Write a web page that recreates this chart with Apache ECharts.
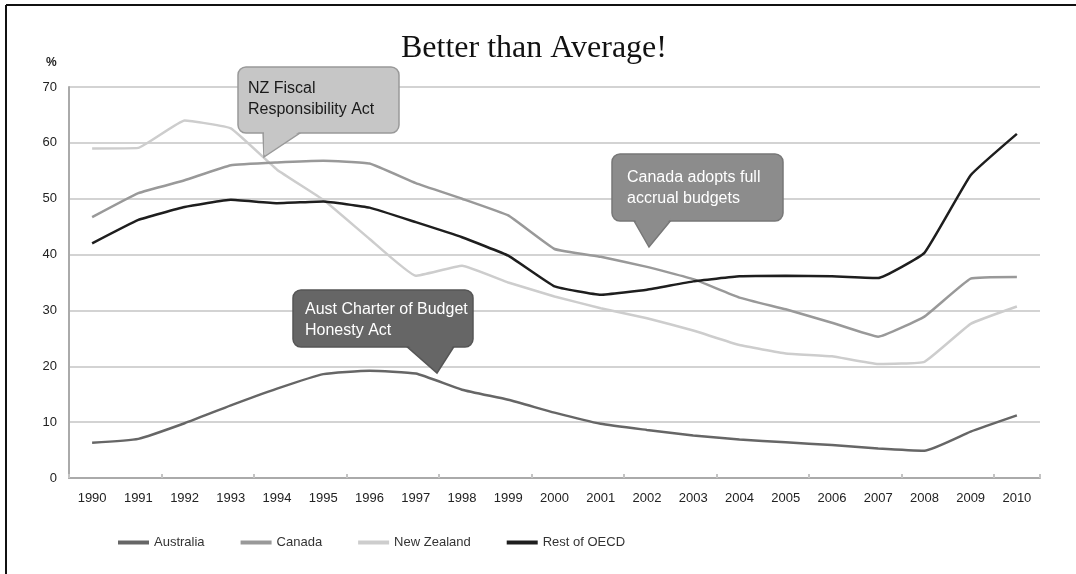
<!DOCTYPE html>
<html>
<head>
<meta charset="utf-8">
<title>Better than Average!</title>
<script src="https://cdn.jsdelivr.net/npm/echarts@6/dist/echarts.min.js"></script>
<style>
html, body { margin: 0; padding: 0; background: #fff; }
#main { width: 1076px; height: 574px; }
</style>
</head>
<body>
<div id="main"></div>
<script>
// 年份
var years = ['1990', '1991', '1992', '1993', '1994', '1995', '1996', '1997', '1998', '1999', '2000',
	'2001', '2002', '2003', '2004', '2005', '2006', '2007', '2008', '2009', '2010'];
// 各国数据 (%)
var australia = [6.3, 7.0, 9.8, 13.0, 16.0, 18.6, 19.2, 18.7, 15.8, 14.0, 11.7, 9.7, 8.6, 7.6, 6.9, 6.4, 5.9, 5.3, 4.9, 8.3, 11.2];
var canada = [46.7, 51.0, 53.3, 56.0, 56.5, 56.8, 56.3, 52.8, 50.0, 47.0, 41.0, 39.6, 37.8, 35.6, 32.3, 30.2, 27.8, 25.3, 28.9, 35.7, 36.0];
var newZealand = [59.0, 59.1, 64.0, 62.6, 55.2, 49.8, 42.8, 36.2, 38.0, 35.0, 32.5, 30.4, 28.6, 26.4, 23.8, 22.3, 21.8, 20.4, 20.8, 27.6, 30.7];
var restOfOecd = [42.0, 46.2, 48.5, 49.8, 49.2, 49.5, 48.4, 45.8, 43.1, 39.8, 34.3, 32.8, 33.7, 35.2, 36.1, 36.2, 36.1, 35.8, 40.3, 54.2, 61.6];
var seriesNames = ['Australia', 'Canada', 'New Zealand', 'Rest of OECD'];
// 注释文字
var noteTexts = ['NZ Fiscal\nResponsibility Act', 'Canada adopts full\naccrual budgets', 'Aust Charter of Budget\nHonesty Act'];

var sansFont = '"Liberation Sans", Arial, sans-serif';

// 气泡框: 圆角矩形 + 三角指针 + 文字 (z 要高于折线)
function bubble(text, box, base, tip, fill, stroke, color, textPos) {
	var bottom = box[1] + box[3];
	return {
		type: 'group',
		z: 100,
		children: [{
			type: 'polygon',
			z: 100,
			shape: { points: [[base[0], bottom - 2], [base[1], bottom - 2], tip] },
			style: { fill: fill, stroke: stroke, lineWidth: 1.5 }
		}, {
			type: 'rect',
			z: 101,
			shape: { x: box[0], y: box[1], width: box[2], height: box[3], r: 8 },
			style: { fill: fill, stroke: stroke, lineWidth: 1.5 }
		}, {
			type: 'polygon',
			z: 102,
			shape: { points: [[base[0] + 1, bottom - 3], [base[1] - 1, bottom - 3], [tip[0], tip[1] - 2]] },
			style: { fill: fill }
		}, {
			type: 'text',
			z: 103,
			x: textPos[0],
			y: textPos[1],
			style: {
				text: text,
				fill: color,
				fontSize: 16,
				fontFamily: sansFont,
				lineHeight: 21,
				verticalAlign: 'top'
			}
		}]
	};
}

var myChart = echarts.init(document.getElementById('main'));

var option = {
	animation: false,
	title: {
		text: 'Better than Average!',
		left: 396,
		top: 28,
		textStyle: {
			fontFamily: '"Liberation Serif", "Times New Roman", serif',
			fontSize: 32,
			fontWeight: 'normal',
			color: '#111'
		}
	},
	legend: {
		data: seriesNames,
		left: 113,
		top: 531,
		icon: 'rect',
		itemWidth: 31,
		itemHeight: 4,
		itemGap: 36,
		textStyle: { fontSize: 13, color: '#333', fontFamily: sansFont }
	},
	grid: {
		left: 69,
		right: 36,
		top: 87,
		bottom: 96
	},
	xAxis: {
		type: 'category',
		boundaryGap: true,
		data: years,
		axisLine: { lineStyle: { color: '#aaa', width: 2 } },
		axisTick: {
			show: true,
			inside: true,
			length: 4,
			interval: 1,
			lineStyle: { color: '#c4c4c4', width: 2 }
		},
		axisLabel: { interval: 0, margin: 14, fontSize: 13, color: '#222', fontFamily: sansFont }
	},
	yAxis: {
		type: 'value',
		min: 0,
		max: 70,
		interval: 10,
		axisLine: { show: true, lineStyle: { color: '#aaa', width: 2 } },
		axisTick: { show: false },
		axisLabel: { margin: 12, fontSize: 13, color: '#222', fontFamily: sansFont },
		splitLine: { lineStyle: { color: '#d3d3d3', width: 2 } }
	},
	series: [{
		name: 'New Zealand',
		type: 'line',
		data: newZealand,
		symbol: 'none',
		smooth: 0.1,
		itemStyle: { color: '#cdcdcd' },
		lineStyle: { color: '#cdcdcd', width: 2.5 }
	}, {
		name: 'Canada',
		type: 'line',
		data: canada,
		symbol: 'none',
		smooth: 0.1,
		itemStyle: { color: '#999' },
		lineStyle: { color: '#999', width: 2.5 }
	}, {
		name: 'Australia',
		type: 'line',
		data: australia,
		symbol: 'none',
		smooth: 0.15,
		itemStyle: { color: '#666' },
		lineStyle: { color: '#666', width: 2.5 }
	}, {
		name: 'Rest of OECD',
		type: 'line',
		data: restOfOecd,
		symbol: 'none',
		smooth: 0.1,
		itemStyle: { color: '#1e1e1e' },
		lineStyle: { color: '#1e1e1e', width: 2.5 }
	}],
	graphic: [
		// 边框
		{ type: 'line', shape: { x1: 6, y1: 5, x2: 1076, y2: 5 }, style: { stroke: '#111', lineWidth: 2 } },
		{ type: 'line', shape: { x1: 6, y1: 5, x2: 6, y2: 574 }, style: { stroke: '#111', lineWidth: 2 } },
		{
			type: 'text', x: 46, y: 57,
			style: { text: '%', fontSize: 12, fontWeight: 'bold', fill: '#222', fontFamily: sansFont }
		},
		bubble(noteTexts[0], [238, 67, 161, 66], [263, 303], [264, 157], '#c6c6c6', '#999', '#1a1a1a', [248, 78]),
		bubble(noteTexts[1], [612, 154, 171, 67], [633, 672], [649, 247], '#8c8c8c', '#777', '#fff', [627, 167]),
		bubble(noteTexts[2], [293, 290, 180, 57], [405, 455], [437, 373], '#666', '#555', '#fff', [305, 299])
	]
};

myChart.setOption(option);
window.addEventListener('resize', function() {
	myChart.resize();
});
</script>
</body>
</html>
